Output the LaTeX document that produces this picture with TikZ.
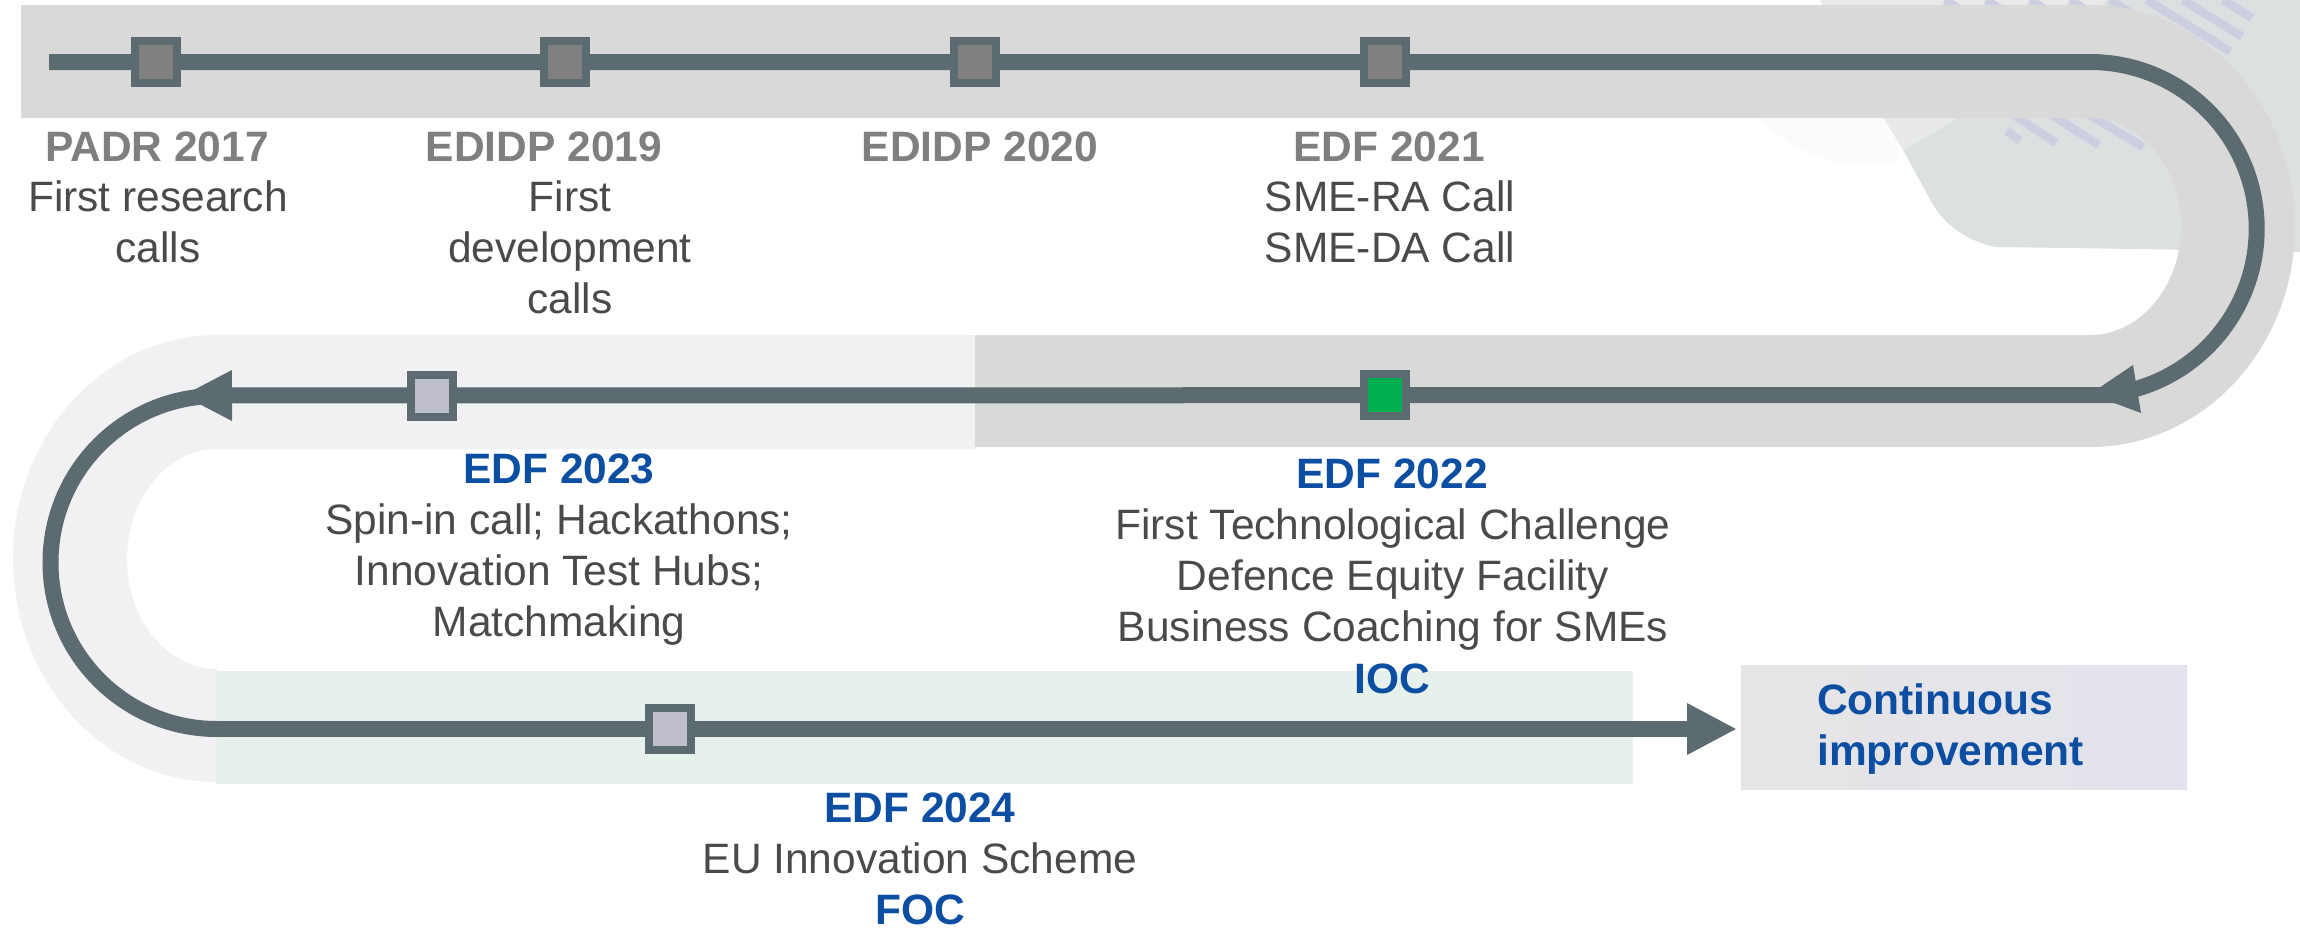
\documentclass[tikz,border=0pt]{standalone}
\usepackage{fontspec}
\setmainfont{Liberation Sans}
\usetikzlibrary{arrows.meta}
\definecolor{track}{HTML}{5B6B6F}
\definecolor{bandgrey}{HTML}{D9D9D9}
\definecolor{bandpale}{HTML}{F1F1F3}
\definecolor{bandgreen}{HTML}{E6F1EB}
\definecolor{patcha}{HTML}{DCE0E1}
\definecolor{patchb}{HTML}{E8EAEA}
\definecolor{patchc}{HTML}{FBFBFB}
\definecolor{stripe}{HTML}{CDCFE1}
\definecolor{edfblue}{HTML}{0B4EA2}
\definecolor{headgrey}{HTML}{7F7F7F}
\definecolor{bodygrey}{HTML}{4A4A4A}
\definecolor{boxl}{HTML}{E5E5E5}
\definecolor{boxr}{HTML}{E3E3EE}
\definecolor{mgrey}{HTML}{808080}
\definecolor{mpale}{HTML}{BFBFCB}
\definecolor{mgreen}{HTML}{00B050}
\newcommand{\txtsize}{\fontsize{42.5}{51}\selectfont}
\tikzset{
  trackline/.style={draw=track,line width=16pt},
  marker/.style={draw=track,line width=8pt,minimum size=42pt,inner sep=0pt,outer sep=0pt,rectangle},
  headgreyt/.style={font=\txtsize\bfseries,text=headgrey,anchor=base,inner sep=0pt},
  headblue/.style={font=\txtsize\bfseries,text=edfblue,anchor=base,inner sep=0pt},
  bodyt/.style={font=\txtsize,text=bodygrey,align=center,anchor=north,inner sep=0pt},
  stripeline/.style={draw=stripe,line width=8.5pt}
}
\begin{document}
\begin{tikzpicture}[x=1pt,y=-1pt]
\useasboundingbox (0,0) rectangle (2300,927);
% background decoration
\fill[patchc] (1760,118) .. controls (1790,150) and (1840,175) .. (1897,160) -- (1901,118) -- cycle;
\fill[patchb] (1820,0) -- (1883,117) -- (1903,150) -- (1960,117) -- (2110,0) -- cycle;
\fill[patcha] (2107,0) -- (2300,0) -- (2300,252) -- (2136,249) -- (1995,247) .. controls (1965,240) and (1945,225) .. (1932,203) -- (1903,150) -- (1960,117) -- (2100,10) -- cycle;
\foreach \a/\b in {2147/2230,2183/2242,2223/2252}{
  \pgfmathsetmacro\yy{(\b-\a)*0.62}
  \draw[stripeline] (\a,0) -- (\b,\yy);
}
\foreach \a in {1945,1986,2030,2070,2110}{
  \draw[stripeline] (\a,0) -- ({\a+80},50);
}
\draw[stripeline] (2012,114) -- (2056,143);
\draw[stripeline] (2050,114) -- (2099,145);
\draw[stripeline] (2088,114) -- (2143,147);
\draw[stripeline] (2007,131) -- (2020,141);
% bands
\fill[bandpale] (975,335) -- (217,335) arc[start angle=90,end angle=270,x radius=204pt,y radius=223.5pt] -- (217,669) arc[start angle=270,end angle=90,x radius=90pt,y radius=110pt] -- (975,449) -- cycle;
\fill[bandgrey] (21,5) -- (2090,5) arc[start angle=90,end angle=-90,x radius=205pt,y radius=221pt] -- (975,447) -- (975,335) -- (2090,335) arc[start angle=-90,end angle=90,x radius=91pt,y radius=108.5pt] -- (21,118) -- cycle;
\fill[bandgreen] (216,671) rectangle (1633,784);
% continuous improvement box
\shade[left color=boxl,right color=boxr] (1741,665) rectangle (2187,789);
% connector coordinates
\coordinate (start) at (49,62);
\coordinate (topend) at (2090,62);
\coordinate (midstart) at (2120,395);
\coordinate (midtip) at (182,395.5);
\coordinate (leftturn) at (217,396);
\coordinate (lowturn) at (217,729);
\coordinate (lowtip) at (1737,729);
\coordinate (barba) at (2133,365);
\coordinate (barbb) at (2141,413);
\coordinate (headtip) at (2090,394);
% connectors
\draw[trackline] (start) -- (topend) arc[start angle=90,end angle=-74,radius=166.7pt];
\fill[track] (barba) -- (headtip) -- (barbb) -- cycle;
\draw[trackline,-{Triangle[length=50pt,width=47pt]}] (midstart) -- (midtip);
\draw[trackline] (leftturn) arc[start angle=90,end angle=270,radius=166.5pt] -- (lowturn);
\draw[trackline,-{Triangle[length=50pt,width=48pt]}] (lowturn) -- (lowtip);
% markers
\node[marker,fill=mgrey] (m1) at (156,62) {};
\node[marker,fill=mgrey] (m2) at (565,62) {};
\node[marker,fill=mgrey] (m3) at (975,62) {};
\node[marker,fill=mgrey] (m4) at (1385,62) {};
\node[marker,fill=mgreen] (m5) at (1385,395) {};
\node[marker,fill=mpale] (m6) at (432,396) {};
\node[marker,fill=mpale] (m7) at (670,729) {};
% texts
\node[headgreyt] (h1) at (157,161) {PADR 2017};
\node[bodyt] (b1) at (158,175.5) {\strut First research\\calls};
\node[headgreyt] (h2) at (544,161) {EDIDP 2019};
\node[bodyt] (b2) at (570,175.5) {\strut First\\development\\calls};
\node[headgreyt] (h3) at (980,161) {EDIDP 2020};
\node[headgreyt] (h4) at (1389,161) {EDF 2021};
\node[bodyt] (b4) at (1390,175.5) {\strut SME-RA Call\\SME-DA Call};
\node[headblue] (h5) at (1392,488) {EDF 2022};
\node[bodyt] (b5) at (1393,503.5) {\strut First Technological Challenge\\Defence Equity Facility\\Business Coaching for SMEs};
\node[headblue] (ioc) at (1392,693) {IOC};
\node[headblue] (h6) at (559,483) {EDF 2023};
\node[bodyt] (b6) at (559,499) {\strut Spin-in call; Hackathons;\\Innovation Test Hubs;\\Matchmaking};
\node[headblue] (h7) at (920,822) {EDF 2024};
\node[bodyt] (b7) at (920,838) {\strut EU Innovation Scheme};
\node[headblue] (foc) at (920,924) {FOC};
\node[font=\txtsize\bfseries,text=edfblue,align=left,anchor=north west,inner sep=0pt] (ci) at (1817,679) {\strut Continuous\\improvement};
\end{tikzpicture}
\end{document}
